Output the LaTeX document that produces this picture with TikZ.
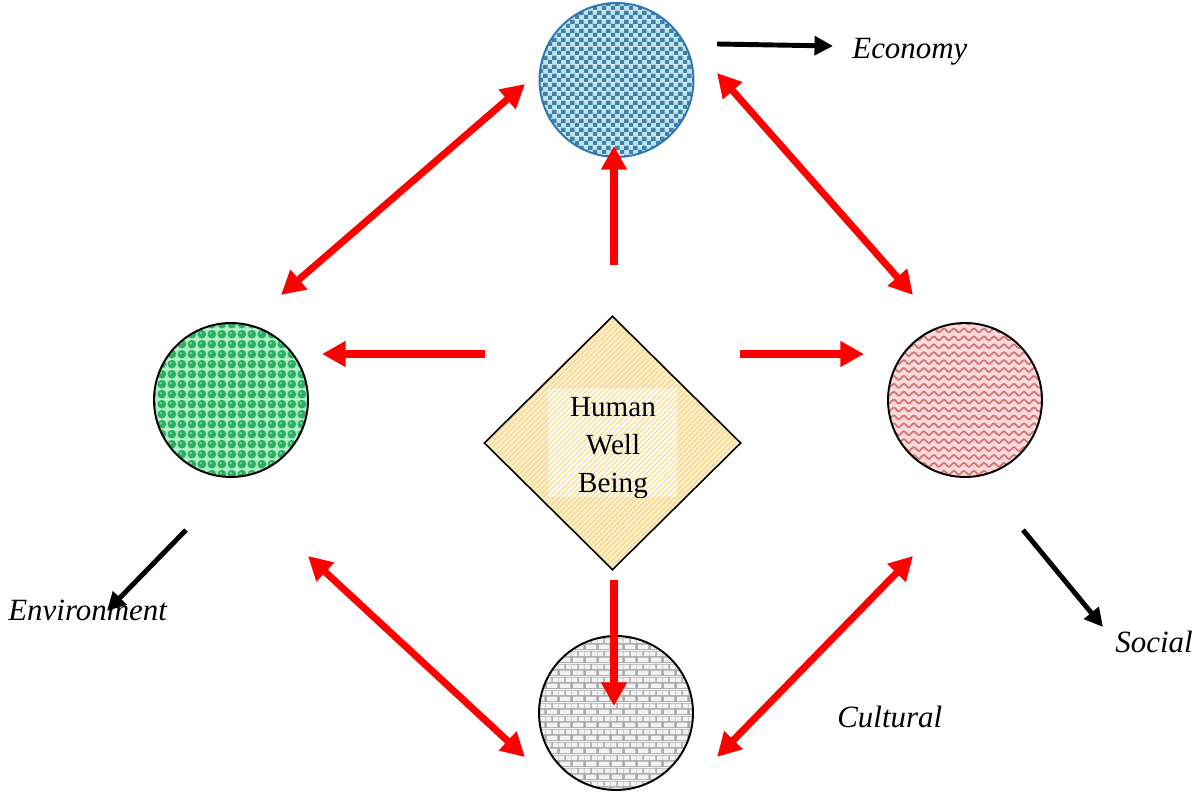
\documentclass[tikz,border=0pt]{standalone}
\usepackage{fontspec}
\setmainfont{Liberation Serif}
\usetikzlibrary{arrows.meta,shapes.geometric,patterns}
\definecolor{ecoLight}{HTML}{B8E6F6}
\definecolor{ecoDark}{HTML}{46809F}
\definecolor{ecoBorder}{HTML}{2E75B6}
\definecolor{envLight}{HTML}{A8ECC0}
\definecolor{envDark}{HTML}{2CAE63}
\definecolor{socLight}{HTML}{FADADA}
\definecolor{socDark}{HTML}{D27474}
\definecolor{culMortar}{HTML}{A8A8A8}
\definecolor{culBrick}{HTML}{F2F2F2}
\definecolor{hwFill}{HTML}{FAEDC6}
\definecolor{hwLine}{HTML}{F2D27A}
\definecolor{hwBoxLine}{HTML}{FFCF50}
\definecolor{arrowRed}{HTML}{FF0000}
\pgfdeclarepatterninherentlycolored{bluecheck}{\pgfpointorigin}{\pgfqpoint{5.2pt}{5.2pt}}{\pgfqpoint{5.2pt}{5.2pt}}{%
  \pgfsetfillcolor{ecoLight}\pgfpathrectangle{\pgfpointorigin}{\pgfqpoint{5.2pt}{5.2pt}}\pgfusepath{fill}%
  \pgfsetfillcolor{ecoDark}\pgfpathrectangle{\pgfpointorigin}{\pgfqpoint{2.6pt}{2.6pt}}%
  \pgfpathrectangle{\pgfqpoint{2.6pt}{2.6pt}}{\pgfqpoint{2.6pt}{2.6pt}}\pgfusepath{fill}}
\pgfdeclarepatterninherentlycolored{greenbubbles}{\pgfpointorigin}{\pgfqpoint{5.6pt}{5.6pt}}{\pgfqpoint{5.6pt}{5.6pt}}{%
  \pgfsetfillcolor{envLight}\pgfpathrectangle{\pgfpointorigin}{\pgfqpoint{5.6pt}{5.6pt}}\pgfusepath{fill}%
  \pgfsetfillcolor{envDark}\pgfpathcircle{\pgfqpoint{2.8pt}{2.8pt}}{2.5pt}\pgfusepath{fill}%
  \pgfsetfillcolor{envLight!60!envDark}\pgfpathcircle{\pgfqpoint{2.2pt}{3.4pt}}{0.8pt}\pgfusepath{fill}}
\pgfdeclarepatterninherentlycolored{pinkwaves}{\pgfqpoint{-0.3pt}{-0.3pt}}{\pgfqpoint{6.0pt}{4.8pt}}{\pgfqpoint{5.7pt}{4.5pt}}{%
  \pgfsetfillcolor{socLight}\pgfpathrectangle{\pgfqpoint{-0.3pt}{-0.3pt}}{\pgfqpoint{6.3pt}{5.1pt}}\pgfusepath{fill}%
  \pgfsetstrokecolor{socDark}\pgfsetlinewidth{1pt}%
  \pgfpathmoveto{\pgfqpoint{-0.3pt}{2.25pt}}%
  \pgfpathlineto{\pgfqpoint{0pt}{2.25pt}}%
  \pgfpathsine{\pgfqpoint{1.425pt}{1.1pt}}%
  \pgfpathcosine{\pgfqpoint{1.425pt}{-1.1pt}}%
  \pgfpathsine{\pgfqpoint{1.425pt}{-1.1pt}}%
  \pgfpathcosine{\pgfqpoint{1.425pt}{1.1pt}}%
  \pgfpathlineto{\pgfqpoint{6.0pt}{2.25pt}}%
  \pgfusepath{stroke}}
\pgfdeclarepatterninherentlycolored{graybricks}{\pgfpointorigin}{\pgfqpoint{7.4pt}{7.4pt}}{\pgfqpoint{7.4pt}{7.4pt}}{%
  \pgfsetfillcolor{culMortar}\pgfpathrectangle{\pgfpointorigin}{\pgfqpoint{7.4pt}{7.4pt}}\pgfusepath{fill}%
  \pgfsetfillcolor{culBrick}%
  \pgfpathrectangle{\pgfqpoint{0.5pt}{0.5pt}}{\pgfqpoint{6.4pt}{2.7pt}}%
  \pgfpathrectangle{\pgfqpoint{0pt}{4.2pt}}{\pgfqpoint{3.2pt}{2.7pt}}%
  \pgfpathrectangle{\pgfqpoint{4.2pt}{4.2pt}}{\pgfqpoint{3.2pt}{2.7pt}}%
  \pgfusepath{fill}}
\tikzset{
  bubble/.style={circle, draw=black, line width=1.1pt, minimum size=3.08cm, inner sep=0pt},
  redarrow/.style={draw=arrowRed, line width=4pt, -{Triangle[length=13.5pt,width=14pt]}},
  redboth/.style={draw=arrowRed, line width=4pt, {Triangle[length=13.5pt,width=14pt]}-{Triangle[length=13.5pt,width=14pt]}},
  blackarrow/.style={draw=black, line width=2.8pt, -{Triangle[length=10.5pt,width=10.5pt]}},
  label/.style={font=\fontsize{17.6}{21}\selectfont\itshape, inner sep=0pt, anchor=base west},
}
\begin{document}
\begin{tikzpicture}[x=0.02cm, y=-0.02cm]
\useasboundingbox (0,0) rectangle (1199,793);
% circles
\node[bubble, draw=ecoBorder, pattern=bluecheck] (eco) at (616.5,80) {};
\node[bubble, pattern=greenbubbles] (env) at (231,400) {};
\node[bubble, pattern=pinkwaves] (soc) at (965,400) {};
\node[bubble, pattern=graybricks] (cul) at (616,713) {};
% diamond
\node[diamond, draw=black, line width=0.9pt, minimum width=5.14cm, minimum height=5.08cm, inner sep=0pt, aspect=1,
      preaction={fill=hwFill}, pattern=north east lines, pattern color=hwLine] (hw) at (612.5,443) {};
\path[preaction={fill=white}, pattern=north east lines, pattern color=hwBoxLine] (548,388) rectangle (677,497);
\begin{scope}
\clip (548,388) rectangle (677,497);
\node[align=center, inner sep=0pt, font=\fontsize{16.6}{21.6}\selectfont] (hwtext) at (613,448) {Human\\Well\\Being};
\end{scope}
% arrow end points
\coordinate (a1s) at (281,295); \coordinate (a1e) at (525,84);
\coordinate (a2s) at (717,73);  \coordinate (a2e) at (913,295);
\coordinate (a3s) at (614,265); \coordinate (a3e) at (614,146);
\coordinate (a4s) at (485,354); \coordinate (a4e) at (322,354);
\coordinate (a5s) at (740,354); \coordinate (a5e) at (864,354);
\coordinate (a6s) at (614,580); \coordinate (a6e) at (614,706);
\coordinate (a7s) at (308,556); \coordinate (a7e) at (525,757);
\coordinate (a8s) at (913,556); \coordinate (a8e) at (717,757);
\coordinate (b1s) at (717,44);  \coordinate (b1e) at (833,46);
\coordinate (b2s) at (186,530); \coordinate (b2e) at (107,611);
\coordinate (b3s) at (1023,530); \coordinate (b3e) at (1103,627);
% red arrows
\draw[redboth] (a1s) -- (a1e);
\draw[redboth] (a2s) -- (a2e);
\draw[redarrow] (a3s) -- (a3e);
\draw[redarrow] (a4s) -- (a4e);
\draw[redarrow] (a5s) -- (a5e);
\draw[redarrow] (a6s) -- (a6e);
\draw[redboth] (a7s) -- (a7e);
\draw[redboth] (a8s) -- (a8e);
% black arrows
\draw[blackarrow] (b1s) -- (b1e);
\draw[blackarrow] (b2s) -- (b2e);
\draw[blackarrow] (b3s) -- (b3e);
% labels
\node[label] (ecolabel) at (852,59) {Economy};
\node[label] (envlabel) at (8,620) {Environment};
\node[label] (soclabel) at (1115,652) {Social};
\node[label] (cullabel) at (837,727) {Cultural};
\end{tikzpicture}
\end{document}
